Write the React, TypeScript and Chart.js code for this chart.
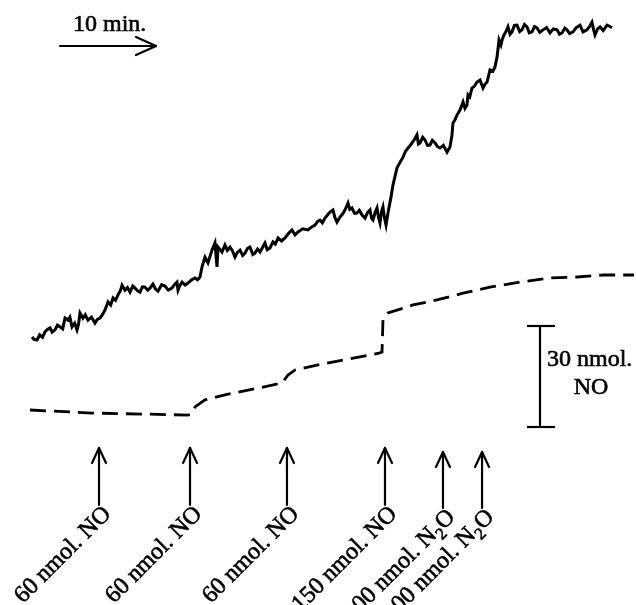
import { useEffect, useRef } from "react";
import { Chart, registerables } from "chart.js";

Chart.register(...registerables);

// Upper (solid) electrode trace: time (min) and signal (nmol equivalents)
const solidTime = [
  0, 0.2, 0.52, 0.8, 1.1, 1.35, 1.6, 1.88, 2.1, 2.4, 2.65, 2.92, 3.2, 3.44, 3.75, 3.95, 4.17,
  4.45, 4.69, 4.85, 5.0, 5.31, 5.55, 5.83, 6.2, 6.56, 6.8, 7.08, 7.35, 7.6, 7.92, 8.2, 8.44,
  8.7, 8.96, 9.2, 9.38, 9.69, 9.95, 10.21, 10.5, 10.73, 11.0, 11.25, 11.5, 11.77, 12.05,
  12.29, 12.6, 12.85, 13.13, 13.5, 13.85, 14.2, 14.58, 14.85, 15.1, 15.21, 15.4, 15.63,
  15.95, 16.25, 16.6, 16.98, 17.25, 17.5, 17.71, 18.02, 18.33, 18.75, 19.06, 19.27, 19.38,
  19.79, 20.1, 20.35, 20.63, 20.9, 21.15, 21.4, 21.67, 21.95, 22.19, 22.45, 22.71, 23.0,
  23.23, 23.5, 23.75, 24.0, 24.27, 24.5, 24.79, 25.1, 25.35, 25.63, 26.0, 26.35, 26.7,
  27.08, 27.4, 27.71, 28.2, 28.75, 29.1, 29.48, 29.75, 30.0, 30.25, 30.52, 30.8, 31.04,
  31.35, 31.55, 31.77, 32.08, 32.35, 32.6, 32.92, 33.1, 33.33, 33.6, 33.85, 34.1, 34.38,
  34.69, 34.95, 35.21, 35.38, 35.52, 35.75, 35.94, 36.1, 36.25, 36.4, 36.56, 36.72, 36.88,
  37.08, 37.4, 37.6, 38.02, 38.3, 38.65, 38.9, 39.17, 39.4, 39.58, 39.85, 40.1, 40.25,
  40.42, 40.7, 40.94, 41.2, 41.46, 41.7, 41.98, 42.25, 42.5, 42.85, 43.23, 43.54, 43.75,
  43.85, 44.05, 44.27, 44.58, 44.9, 45.1, 45.31, 45.42, 45.6, 45.83, 46.1, 46.35, 46.67,
  46.98, 47.2, 47.4, 47.71, 48.0, 48.23, 48.44, 48.65, 48.85, 49.0, 49.17, 49.4, 49.58,
  49.8, 50.0, 50.25, 50.52, 50.8, 51.04, 51.3, 51.56, 51.8, 52.08, 52.35, 52.6, 52.9, 53.23,
  53.6, 53.96, 54.3, 54.69, 54.95, 55.21, 55.5, 55.73, 56.0, 56.35, 56.7, 57.08, 57.4, 57.81,
  58.1, 58.33, 58.5, 58.65, 58.9, 59.17, 59.5, 59.9, 60.2, 60.42,
];
const solidSignal = [
  21.7, 21.0, 20.8, 22.3, 21.6, 23.2, 23.9, 24.4, 23.1, 23.8, 25.2, 24.7, 24.1, 27.3, 26.7,
  27.6, 24.7, 25.8, 23.8, 25.5, 28.8, 27.3, 28.3, 26.7, 27.6, 25.8, 26.9, 27.3, 28.4, 29.7,
  32.1, 31.2, 33.3, 32.6, 34.2, 35.4, 37.1, 35.6, 36.4, 35.0, 36.8, 36.2, 35.4, 35.0, 36.6,
  36.5, 35.6, 36.2, 37.4, 36.0, 35.3, 37.2, 36.8, 35.6, 36.2, 37.3, 38.0, 35.6, 36.9, 38.0,
  37.1, 37.7, 38.6, 39.2, 38.7, 39.5, 42.5, 45.4, 43.7, 47.5, 49.6, 42.5, 48.4, 46.9, 49.0,
  47.4, 48.4, 47.2, 45.4, 46.8, 47.5, 45.9, 46.6, 48.0, 48.4, 46.2, 46.6, 47.8, 46.9, 48.2,
  49.6, 47.6, 48.1, 49.9, 49.3, 51.1, 50.2, 51.1, 52.4, 53.5, 52.0, 52.9, 53.8, 53.5, 54.3,
  54.9, 56.0, 56.4, 55.6, 57.0, 58.0, 58.8, 59.4, 57.2, 55.8, 57.3, 58.2, 59.4, 61.5, 59.6,
  60.0, 58.4, 58.5, 59.3, 57.9, 57.0, 58.6, 59.4, 56.9, 56.4, 58.7, 60.0, 57.1, 55.5, 58.8,
  60.3, 57.0, 54.9, 58.5, 63.3, 66.8, 71.9, 73.4, 75.1, 76.8, 77.8, 78.6, 79.3, 80.4, 81.7,
  79.0, 79.3, 81.0, 80.2, 78.6, 78.7, 80.1, 79.3, 78.2, 77.8, 78.6, 76.6, 78.1, 81.7, 85.2,
  86.1, 87.6, 89.1, 91.5, 89.6, 90.6, 93.6, 93.0, 95.6, 96.2, 97.4, 98.0, 95.6, 96.8, 97.4,
  101.0, 100.6, 101.9, 104.8, 109.9, 108.4, 110.2, 111.4, 112.6, 113.8, 111.6, 112.3, 114.2,
  114.3, 112.4, 112.9, 114.5, 113.8, 112.0, 112.3, 113.9, 113.5, 112.2, 112.9, 113.6, 112.0,
  113.2, 112.9, 111.6, 112.0, 113.4, 112.9, 111.8, 112.3, 113.6, 114.3, 112.3, 112.9, 114.0,
  115.2, 113.0, 111.4, 113.1, 113.8, 112.7, 114.3, 113.9, 113.5,
];

// Lower (dashed) NO trace
const dashedTime = [
  -0.21, 6.25, 11.46, 16.25, 16.56, 16.98, 18.02, 20.1, 23.54, 26.04, 26.67, 27.4, 29.79,
  32.6, 36.15, 36.46, 36.56, 37.08, 39.69, 42.19, 44.9, 47.71, 50.83, 53.96, 56.77, 59.48,
  62.71,
];
const dashedSignal = [
  0, -0.9, -1.2, -1.5, -1.2, 0.9, 3.0, 4.5, 6.5, 8.0, 10.4, 11.9, 13.4, 14.9, 16.9, 17.2,
  26.7, 28.8, 31.2, 32.7, 34.7, 36.5, 38.0, 39.2, 39.5, 40.1, 40.1,
];

// Additions (time in min) and their labels ("_2" marks a subscript 2)
const additionTimes = [6.98, 16.46, 26.56, 36.77, 42.81, 46.88];
const additionLabels = [
  "60 nmol. NO",
  "60 nmol. NO",
  "60 nmol. NO",
  "150 nmol. NO",
  "100 nmol. N_2O",
  "100 nmol. N_2O",
];

const timeBarMinutes = 10;
const amountBarNmol = 30;
const amountBarLabel = ["30 nmol.", "NO"];

const FONT = "'Liberation Serif', 'Times New Roman', Times, serif";

export default function App() {
  const ref = useRef<HTMLCanvasElement>(null);

  useEffect(() => {
    const canvas = ref.current;
    if (!canvas) return;

    const annotations = {
      id: "annotations",
      afterDraw(chart: any) {
        const ctx: CanvasRenderingContext2D = chart.ctx;
        const xs = chart.scales.x;
        const ys = chart.scales.y;
        const seg = (x0: number, y0: number, x1: number, y1: number) => {
          ctx.beginPath();
          ctx.moveTo(x0, y0);
          ctx.lineTo(x1, y1);
          ctx.stroke();
        };
        const text = (s: string, x: number, y: number) => {
          ctx.save();
          ctx.lineWidth = 0.6;
          ctx.lineJoin = "round";
          ctx.strokeText(s, x, y);
          ctx.restore();
          ctx.fillText(s, x, y);
        };
        ctx.save();
        ctx.strokeStyle = "#000";
        ctx.fillStyle = "#000";
        ctx.lineWidth = 2.2;
        ctx.lineCap = "round";

        // time bar
        const minPx = xs.getPixelForValue(timeBarMinutes) - xs.getPixelForValue(0);
        const tx0 = 60;
        const tx1 = tx0 + minPx;
        const ty = 46;
        seg(tx0, ty, tx1, ty);
        seg(tx1, ty, tx1 - 20, ty - 9);
        seg(tx1, ty, tx1 - 20, ty + 9);
        ctx.font = `24px ${FONT}`;
        ctx.textAlign = "left";
        ctx.textBaseline = "alphabetic";
        text(`${timeBarMinutes} min.`, 73, 31);

        // amount bar
        const barPx = ys.getPixelForValue(0) - ys.getPixelForValue(amountBarNmol);
        const bx = 540;
        const bBottom = 427;
        const bTop = bBottom - barPx;
        ctx.lineCap = "butt";
        seg(bx, bTop, bx, bBottom);
        seg(bx - 13, bTop, bx + 15, bTop);
        seg(bx - 13, bBottom, bx + 15, bBottom);
        text(amountBarLabel[0], 547, 366);
        ctx.textAlign = "center";
        text(amountBarLabel[1], 591, 394);

        // addition arrows and labels
        ctx.lineCap = "round";
        additionTimes.forEach((t, i) => {
          const ax = xs.getPixelForValue(t);
          const top = i >= 4 ? 452 : 448;
          const bottom = i >= 4 ? 508 : 505;
          ctx.lineWidth = 2.2;
          seg(ax, top, ax, bottom);
          seg(ax, top, ax - 7, top + 15);
          seg(ax, top, ax + 7, top + 15);

          const parts = additionLabels[i].split("_2");
          const mainFont = `24px ${FONT}`;
          const subFont = `17px ${FONT}`;
          ctx.font = mainFont;
          const w0 = ctx.measureText(parts[0]).width;
          let total = w0;
          let wSub = 0;
          if (parts.length > 1) {
            ctx.font = subFont;
            wSub = ctx.measureText("2").width;
            ctx.font = mainFont;
            total += wSub + ctx.measureText(parts[1]).width;
          }
          ctx.save();
          ctx.translate(ax + 13, bottom + 10);
          ctx.rotate(-Math.PI / 4);
          ctx.textAlign = "left";
          ctx.font = mainFont;
          text(parts[0], -total, 0);
          if (parts.length > 1) {
            ctx.font = subFont;
            text("2", -total + w0, 6);
            ctx.font = mainFont;
            text(parts[1], -total + w0 + wSub, 0);
          }
          ctx.restore();
        });
        ctx.restore();
      },
    };

    const chart = new Chart(canvas, {
      type: "line",
      data: {
        datasets: [
          {
            data: solidTime.map((t, i) => ({ x: t, y: solidSignal[i] })),
            borderColor: "#000",
            borderWidth: 3,
            pointRadius: 0,
            tension: 0,
            fill: false,
          },
          {
            data: dashedTime.map((t, i) => ({ x: t, y: dashedSignal[i] })),
            borderColor: "#000",
            borderWidth: 2.8,
            borderDash: [16, 8],
            pointRadius: 0,
            tension: 0,
            fill: false,
          },
        ],
      },
      options: {
        animation: false,
        responsive: false,
        maintainAspectRatio: false,
        layout: { padding: 0 },
        plugins: { legend: { display: false }, tooltip: { enabled: false } },
        scales: {
          x: { type: "linear", min: -3.333, max: 62.917, display: false },
          y: { type: "linear", min: -57.91, max: 121.77, display: false },
        },
      },
      plugins: [annotations],
    });
    return () => chart.destroy();
  }, []);

  return (
    <div style={{ position: "absolute", left: 0, top: 0, width: 636, height: 605, background: "#fff" }}>
      <canvas ref={ref} width={636} height={605} style={{ display: "block" }} />
    </div>
  );
}
